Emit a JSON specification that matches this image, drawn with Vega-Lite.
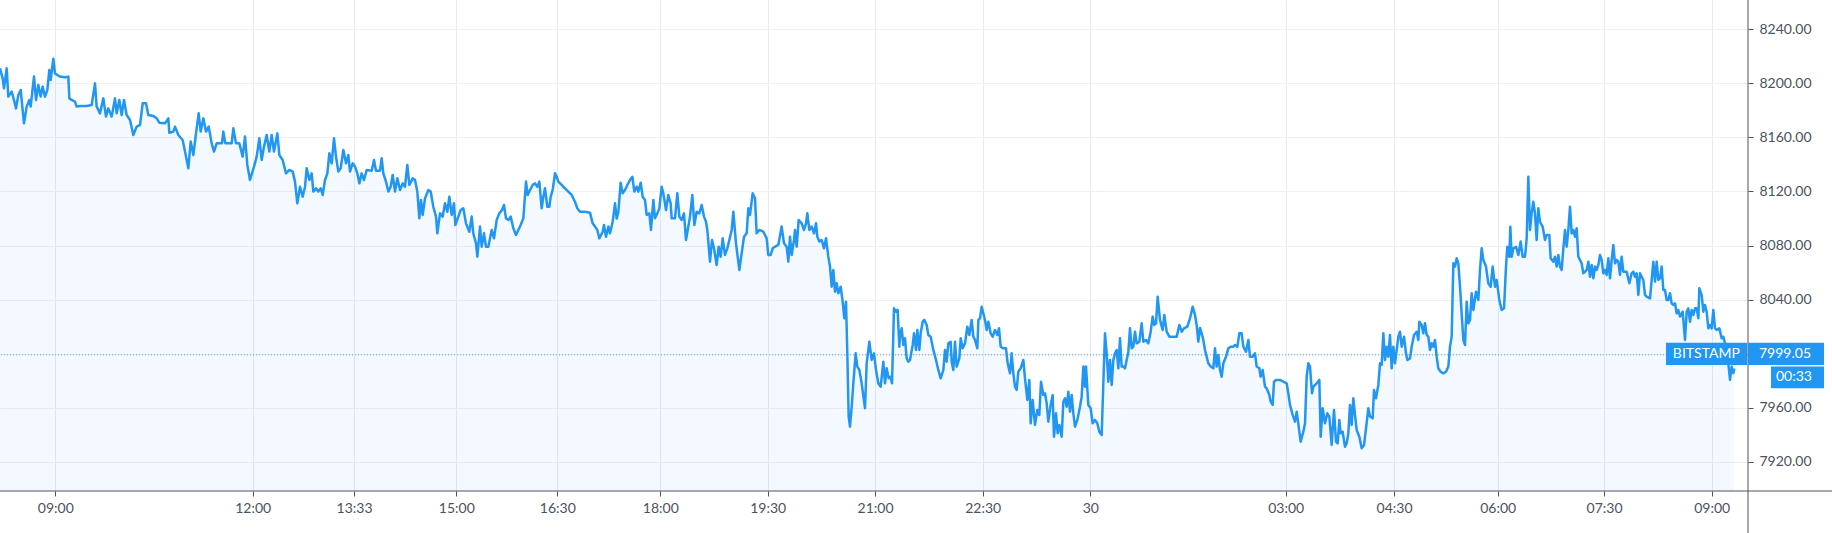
{
  "$schema": "https://vega.github.io/schema/vega-lite/v6.json",
  "width": 1748,
  "height": 491,
  "autosize": {"type": "none"},
  "padding": {"left": 0, "top": 0, "right": 84, "bottom": 42},
  "background": "#ffffff",
  "config": {
    "view": {"stroke": null},
    "axis": {"labelFont": "Lato", "labelFontSize": 14, "labelColor": "#4c525e", "tickColor": "#4c525e", "domain": false}
  },
  "encoding": {
    "x": {
      "field": "bar",
      "type": "quantitative",
      "title": null,
      "scale": {"domain": [0, 5244], "nice": false, "zero": false},
      "axis": {
        "orient": "bottom",
        "values": [166, 758, 1062, 1369, 1672, 1981, 2303, 2625, 2948, 3271, 3857, 4182, 4493, 4812, 5135],
        "labelExpr": "datum.value == 166 || datum.value == 5135 ? '09:00' : datum.value == 758 ? '12:00' : datum.value == 1062 ? '13:33' : datum.value == 1369 ? '15:00' : datum.value == 1672 ? '16:30' : datum.value == 1981 ? '18:00' : datum.value == 2303 ? '19:30' : datum.value == 2625 ? '21:00' : datum.value == 2948 ? '22:30' : datum.value == 3271 ? '30' : datum.value == 3857 ? '03:00' : datum.value == 4182 ? '04:30' : datum.value == 4493 ? '06:00' : datum.value == 4812 ? '07:30' : ''",
        "grid": true,
        "gridColor": "#e3ebf3",
        "tickSize": 5,
        "labelPadding": 5,
        "labelOverlap": false,
        "labelFlush": false
      }
    },
    "y": {
      "field": "price",
      "type": "quantitative",
      "title": null,
      "stack": null,
      "scale": {"domain": [7898.3, 8261.7], "nice": false, "zero": false},
      "axis": {
        "orient": "right",
        "values": [7920, 7960, 8000, 8040, 8080, 8120, 8160, 8200, 8240],
        "labelExpr": "datum.value == 8000 ? '' : format(datum.value, '.2f')",
        "grid": true,
        "gridColor": "#edf1f6",
        "tickSize": 5,
        "labelPadding": 6,
        "labelOverlap": false,
        "labelFlush": false
      }
    }
  },
  "datasets": {
    "prices": [
      {"bar":0,"price":8211.1},{"bar":8,"price":8203.7},{"bar":12,"price":8196.3},{"bar":20,"price":8211.1},{"bar":25,"price":8190.2},{"bar":35,"price":8193.9},{"bar":42,"price":8187.7},{"bar":48,"price":8181.5},{"bar":55,"price":8191.4},{"bar":62,"price":8195.1},{"bar":66,"price":8185.2},{"bar":72,"price":8170.4},{"bar":80,"price":8182.8},{"bar":88,"price":8187.7},{"bar":92,"price":8182.8},{"bar":98,"price":8196.3},{"bar":102,"price":8205.0},{"bar":108,"price":8187.7},{"bar":115,"price":8198.8},{"bar":122,"price":8190.2},{"bar":128,"price":8197.6},{"bar":135,"price":8190.2},{"bar":142,"price":8195.1},{"bar":148,"price":8209.9},{"bar":152,"price":8202.5},{"bar":160,"price":8218.3},{"bar":165,"price":8207.4},{"bar":172,"price":8206.2},{"bar":180,"price":8205.0},{"bar":195,"price":8204.5},{"bar":205,"price":8205.0},{"bar":208,"price":8188.9},{"bar":215,"price":8187.7},{"bar":225,"price":8186.5},{"bar":230,"price":8182.8},{"bar":240,"price":8183.3},{"bar":260,"price":8183.3},{"bar":275,"price":8184.0},{"bar":285,"price":8200.0},{"bar":290,"price":8182.8},{"bar":300,"price":8177.8},{"bar":310,"price":8188.9},{"bar":318,"price":8175.4},{"bar":325,"price":8181.5},{"bar":335,"price":8175.4},{"bar":345,"price":8188.9},{"bar":350,"price":8177.8},{"bar":358,"price":8187.7},{"bar":365,"price":8176.6},{"bar":372,"price":8187.7},{"bar":380,"price":8176.6},{"bar":390,"price":8172.9},{"bar":400,"price":8161.8},{"bar":410,"price":8168.0},{"bar":420,"price":8169.2},{"bar":428,"price":8185.2},{"bar":438,"price":8185.2},{"bar":445,"price":8176.6},{"bar":460,"price":8175.9},{"bar":470,"price":8174.1},{"bar":478,"price":8170.9},{"bar":495,"price":8170.4},{"bar":505,"price":8174.1},{"bar":508,"price":8163.5},{"bar":520,"price":8164.3},{"bar":525,"price":8168.0},{"bar":535,"price":8161.8},{"bar":548,"price":8158.1},{"bar":555,"price":8149.5},{"bar":565,"price":8137.1},{"bar":572,"price":8156.9},{"bar":580,"price":8147.0},{"bar":588,"price":8163.0},{"bar":596,"price":8177.8},{"bar":602,"price":8164.3},{"bar":610,"price":8174.1},{"bar":618,"price":8164.3},{"bar":626,"price":8168.0},{"bar":635,"price":8155.6},{"bar":642,"price":8149.5},{"bar":650,"price":8155.6},{"bar":666,"price":8155.6},{"bar":670,"price":8164.3},{"bar":676,"price":8155.6},{"bar":695,"price":8155.6},{"bar":700,"price":8166.7},{"bar":708,"price":8155.6},{"bar":718,"price":8155.6},{"bar":728,"price":8145.8},{"bar":735,"price":8160.6},{"bar":742,"price":8139.6},{"bar":750,"price":8128.5},{"bar":762,"price":8138.4},{"bar":770,"price":8145.8},{"bar":778,"price":8159.3},{"bar":785,"price":8143.3},{"bar":792,"price":8153.2},{"bar":800,"price":8161.8},{"bar":808,"price":8149.5},{"bar":815,"price":8161.8},{"bar":822,"price":8149.5},{"bar":832,"price":8163.0},{"bar":838,"price":8147.0},{"bar":848,"price":8143.3},{"bar":858,"price":8133.4},{"bar":868,"price":8135.9},{"bar":878,"price":8134.7},{"bar":885,"price":8127.3},{"bar":892,"price":8111.2},{"bar":900,"price":8123.5},
      {"bar":908,"price":8116.1},{"bar":915,"price":8123.5},{"bar":920,"price":8137.1},{"bar":928,"price":8128.5},{"bar":935,"price":8133.4},{"bar":940,"price":8119.9},{"bar":948,"price":8122.3},{"bar":955,"price":8119.9},{"bar":962,"price":8122.3},{"bar":968,"price":8117.4},{"bar":975,"price":8128.5},{"bar":982,"price":8133.4},{"bar":988,"price":8148.2},{"bar":995,"price":8140.8},{"bar":1002,"price":8159.3},{"bar":1008,"price":8145.8},{"bar":1015,"price":8134.7},{"bar":1022,"price":8137.1},{"bar":1030,"price":8150.7},{"bar":1038,"price":8140.8},{"bar":1045,"price":8147.0},{"bar":1050,"price":8134.7},{"bar":1058,"price":8140.8},{"bar":1065,"price":8138.4},{"bar":1072,"price":8133.4},{"bar":1078,"price":8126.0},{"bar":1085,"price":8133.4},{"bar":1092,"price":8128.5},{"bar":1100,"price":8135.9},{"bar":1115,"price":8135.4},{"bar":1122,"price":8143.3},{"bar":1128,"price":8135.4},{"bar":1140,"price":8135.4},{"bar":1145,"price":8144.5},{"bar":1150,"price":8133.4},{"bar":1158,"price":8127.3},{"bar":1165,"price":8119.9},{"bar":1172,"price":8123.5},{"bar":1178,"price":8132.2},{"bar":1185,"price":8119.9},{"bar":1192,"price":8129.7},{"bar":1200,"price":8121.1},{"bar":1208,"price":8126.0},{"bar":1215,"price":8123.5},{"bar":1222,"price":8139.6},{"bar":1228,"price":8124.8},{"bar":1238,"price":8129.7},{"bar":1245,"price":8128.5},{"bar":1252,"price":8119.9},{"bar":1258,"price":8100.1},{"bar":1263,"price":8113.7},{"bar":1268,"price":8102.6},{"bar":1275,"price":8114.9},{"bar":1285,"price":8121.1},{"bar":1292,"price":8119.9},{"bar":1300,"price":8108.7},{"bar":1308,"price":8101.4},{"bar":1312,"price":8089.0},{"bar":1320,"price":8103.8},{"bar":1328,"price":8101.4},{"bar":1335,"price":8111.2},{"bar":1342,"price":8105.0},{"bar":1348,"price":8116.1},{"bar":1355,"price":8102.6},{"bar":1362,"price":8111.2},{"bar":1366,"price":8095.2},{"bar":1375,"price":8101.4},{"bar":1382,"price":8106.3},{"bar":1390,"price":8107.5},{"bar":1398,"price":8096.4},{"bar":1408,"price":8090.2},{"bar":1415,"price":8101.4},{"bar":1420,"price":8089.0},{"bar":1428,"price":8081.6},{"bar":1432,"price":8071.7},{"bar":1440,"price":8094.0},{"bar":1445,"price":8079.1},{"bar":1452,"price":8089.0},{"bar":1458,"price":8079.1},{"bar":1465,"price":8079.1},{"bar":1475,"price":8091.5},{"bar":1482,"price":8085.3},{"bar":1490,"price":8098.9},{"bar":1498,"price":8103.8},{"bar":1506,"price":8106.3},{"bar":1512,"price":8110.0},{"bar":1518,"price":8100.1},{"bar":1525,"price":8098.9},{"bar":1532,"price":8101.4},{"bar":1540,"price":8092.7},{"bar":1548,"price":8087.8},{"bar":1555,"price":8091.5},{"bar":1562,"price":8095.2},{"bar":1570,"price":8100.1},{"bar":1578,"price":8127.3},{"bar":1583,"price":8117.4},{"bar":1590,"price":8121.1},{"bar":1598,"price":8124.8},{"bar":1605,"price":8126.0},{"bar":1612,"price":8123.5},{"bar":1618,"price":8127.3},{"bar":1625,"price":8107.5},{"bar":1630,"price":8116.1},{"bar":1635,"price":8122.3},{"bar":1642,"price":8108.7},{"bar":1648,"price":8108.7},{"bar":1652,"price":8116.1},{"bar":1658,"price":8121.1},{"bar":1665,"price":8133.4},{"bar":1670,"price":8130.9},{"bar":1675,"price":8127.3},{"bar":1685,"price":8124.8},{"bar":1695,"price":8122.3},{"bar":1705,"price":8119.9},{"bar":1715,"price":8117.4},{"bar":1725,"price":8112.4},{"bar":1732,"price":8107.5},{"bar":1740,"price":8105.0},{"bar":1755,"price":8105.0},{"bar":1770,"price":8104.3},{"bar":1778,"price":8096.4},{"bar":1785,"price":8094.0},{"bar":1792,"price":8091.5},{"bar":1798,"price":8085.3},
      {"bar":1808,"price":8090.2},{"bar":1812,"price":8095.2},{"bar":1818,"price":8086.5},{"bar":1825,"price":8094.0},{"bar":1830,"price":8089.0},{"bar":1838,"price":8097.6},{"bar":1845,"price":8111.2},{"bar":1850,"price":8099.9},{"bar":1855,"price":8104.8},{"bar":1862,"price":8126.5},{"bar":1868,"price":8118.6},{"bar":1875,"price":8121.1},{"bar":1882,"price":8124.8},{"bar":1890,"price":8128.5},{"bar":1897,"price":8130.9},{"bar":1903,"price":8119.9},{"bar":1910,"price":8123.5},{"bar":1915,"price":8119.9},{"bar":1922,"price":8126.5},{"bar":1928,"price":8116.1},{"bar":1935,"price":8113.7},{"bar":1940,"price":8102.6},{"bar":1948,"price":8103.8},{"bar":1953,"price":8091.5},{"bar":1960,"price":8113.7},{"bar":1965,"price":8100.1},{"bar":1972,"price":8103.8},{"bar":1978,"price":8107.5},{"bar":1985,"price":8123.5},{"bar":1990,"price":8118.6},{"bar":1998,"price":8106.3},{"bar":2005,"price":8117.4},{"bar":2012,"price":8111.2},{"bar":2015,"price":8100.1},{"bar":2025,"price":8100.1},{"bar":2032,"price":8118.6},{"bar":2038,"price":8101.4},{"bar":2045,"price":8098.9},{"bar":2052,"price":8103.8},{"bar":2058,"price":8084.1},{"bar":2065,"price":8094.0},{"bar":2070,"price":8101.4},{"bar":2077,"price":8117.4},{"bar":2083,"price":8095.2},{"bar":2090,"price":8105.0},{"bar":2098,"price":8103.8},{"bar":2105,"price":8110.0},{"bar":2112,"price":8101.4},{"bar":2118,"price":8097.6},{"bar":2122,"price":8091.5},{"bar":2130,"price":8068.0},{"bar":2136,"price":8084.1},{"bar":2142,"price":8077.9},{"bar":2150,"price":8065.6},{"bar":2156,"price":8079.1},{"bar":2162,"price":8071.7},{"bar":2168,"price":8085.3},{"bar":2175,"price":8073.0},{"bar":2182,"price":8077.9},{"bar":2188,"price":8084.1},{"bar":2195,"price":8091.5},{"bar":2200,"price":8105.0},{"bar":2208,"price":8081.6},{"bar":2218,"price":8061.9},{"bar":2225,"price":8074.2},{"bar":2232,"price":8086.5},{"bar":2240,"price":8089.0},{"bar":2245,"price":8107.5},{"bar":2250,"price":8102.6},{"bar":2258,"price":8118.6},{"bar":2265,"price":8114.9},{"bar":2270,"price":8089.0},{"bar":2278,"price":8091.5},{"bar":2290,"price":8090.2},{"bar":2300,"price":8085.3},{"bar":2305,"price":8073.0},{"bar":2312,"price":8073.0},{"bar":2318,"price":8077.9},{"bar":2325,"price":8079.1},{"bar":2335,"price":8080.4},{"bar":2345,"price":8094.0},{"bar":2352,"price":8081.6},{"bar":2360,"price":8079.1},{"bar":2365,"price":8068.0},{"bar":2370,"price":8086.5},{"bar":2375,"price":8073.0},{"bar":2382,"price":8084.1},{"bar":2385,"price":8091.5},{"bar":2390,"price":8079.1},{"bar":2396,"price":8098.9},{"bar":2405,"price":8096.4},{"bar":2412,"price":8091.5},{"bar":2418,"price":8096.4},{"bar":2422,"price":8103.8},{"bar":2428,"price":8091.5},{"bar":2435,"price":8094.0},{"bar":2442,"price":8089.0},{"bar":2448,"price":8096.4},{"bar":2452,"price":8086.5},{"bar":2458,"price":8082.9},{"bar":2465,"price":8084.1},{"bar":2472,"price":8077.9},{"bar":2478,"price":8085.3},{"bar":2485,"price":8071.7},{"bar":2490,"price":8064.4},{"bar":2495,"price":8049.5},{"bar":2500,"price":8061.9},{"bar":2505,"price":8045.8},{"bar":2510,"price":8052.0},{"bar":2515,"price":8044.6},{"bar":2522,"price":8049.5},{"bar":2528,"price":8038.4},{"bar":2533,"price":8026.1},{"bar":2538,"price":8038.4},{"bar":2542,"price":8000.2},{"bar":2546,"price":7953.3},{"bar":2550,"price":7945.9},{"bar":2555,"price":7960.7},{"bar":2560,"price":7978.0},{"bar":2567,"price":8000.2},{"bar":2572,"price":7990.4},{"bar":2578,"price":7987.9},{"bar":2585,"price":7978.0},{"bar":2595,"price":7959.5},{"bar":2600,"price":7992.8},{"bar":2608,"price":8008.8},{"bar":2615,"price":7995.3},{"bar":2622,"price":8000.2},{"bar":2628,"price":7987.9},{"bar":2635,"price":7978.0},{"bar":2642,"price":7975.5},{"bar":2650,"price":7994.0},{"bar":2655,"price":7978.0},{"bar":2660,"price":7989.1},{"bar":2666,"price":7981.7},{"bar":2672,"price":7982.9},{"bar":2676,"price":7978.0},{"bar":2682,"price":8033.5},{"bar":2688,"price":8031.0},{"bar":2693,"price":8032.3},{"bar":2698,"price":8005.1},
      {"bar":2700,"price":8012.5},{"bar":2705,"price":8018.7},{"bar":2710,"price":8006.4},{"bar":2715,"price":8011.3},{"bar":2720,"price":7996.5},{"bar":2725,"price":7994.0},{"bar":2730,"price":7995.3},{"bar":2738,"price":8006.4},{"bar":2742,"price":8015.0},{"bar":2748,"price":8002.7},{"bar":2752,"price":8017.5},{"bar":2758,"price":8002.7},{"bar":2762,"price":8015.0},{"bar":2768,"price":8023.6},{"bar":2773,"price":8024.9},{"bar":2780,"price":8021.2},{"bar":2785,"price":8013.8},{"bar":2792,"price":8012.5},{"bar":2800,"price":8002.7},{"bar":2808,"price":7995.3},{"bar":2815,"price":7987.9},{"bar":2822,"price":7981.7},{"bar":2830,"price":7987.9},{"bar":2835,"price":8002.7},{"bar":2840,"price":7994.0},{"bar":2845,"price":8007.6},{"bar":2852,"price":8008.8},{"bar":2855,"price":7994.0},{"bar":2860,"price":7987.9},{"bar":2865,"price":8008.8},{"bar":2870,"price":7990.4},{"bar":2878,"price":7996.5},{"bar":2882,"price":8011.3},{"bar":2888,"price":8003.9},{"bar":2895,"price":8007.6},{"bar":2902,"price":8019.9},{"bar":2908,"price":8013.8},{"bar":2915,"price":8024.9},{"bar":2920,"price":8012.5},{"bar":2925,"price":8010.1},{"bar":2932,"price":8003.9},{"bar":2935,"price":8024.9},{"bar":2940,"price":8026.1},{"bar":2945,"price":8034.7},{"bar":2950,"price":8029.8},{"bar":2955,"price":8024.9},{"bar":2960,"price":8017.5},{"bar":2965,"price":8023.6},{"bar":2972,"price":8015.0},{"bar":2978,"price":8012.5},{"bar":2985,"price":8017.5},{"bar":2992,"price":8013.8},{"bar":2997,"price":8018.7},{"bar":3002,"price":8005.1},{"bar":3010,"price":8003.9},{"bar":3018,"price":8003.9},{"bar":3023,"price":7992.8},{"bar":3030,"price":7985.4},{"bar":3035,"price":8000.2},{"bar":3040,"price":7985.4},{"bar":3045,"price":7975.5},{"bar":3050,"price":7973.1},{"bar":3055,"price":7986.6},{"bar":3062,"price":7989.1},{"bar":3070,"price":7995.3},{"bar":3075,"price":7981.7},{"bar":3082,"price":7965.7},{"bar":3088,"price":7980.5},{"bar":3092,"price":7948.4},{"bar":3098,"price":7965.7},{"bar":3105,"price":7947.2},{"bar":3112,"price":7958.3},{"bar":3118,"price":7954.6},{"bar":3123,"price":7979.2},{"bar":3130,"price":7969.4},{"bar":3135,"price":7970.6},{"bar":3140,"price":7963.2},{"bar":3145,"price":7949.6},{"bar":3152,"price":7962.0},{"bar":3158,"price":7969.4},{"bar":3162,"price":7938.5},{"bar":3168,"price":7955.8},{"bar":3173,"price":7941.0},{"bar":3178,"price":7947.2},{"bar":3185,"price":7938.5},{"bar":3190,"price":7964.4},{"bar":3195,"price":7966.9},{"bar":3200,"price":7960.7},{"bar":3205,"price":7971.8},{"bar":3210,"price":7957.0},{"bar":3215,"price":7969.4},{"bar":3220,"price":7955.8},{"bar":3225,"price":7945.9},{"bar":3232,"price":7950.9},{"bar":3240,"price":7960.7},{"bar":3245,"price":7968.1},{"bar":3250,"price":7990.4},{"bar":3255,"price":7975.5},{"bar":3258,"price":7990.4},{"bar":3265,"price":7962.0},{"bar":3272,"price":7959.5},{"bar":3278,"price":7948.4},{"bar":3285,"price":7950.9},{"bar":3292,"price":7948.4},{"bar":3298,"price":7942.2},{"bar":3305,"price":7939.8},{"bar":3310,"price":7978.0},{"bar":3315,"price":8015.0},{"bar":3320,"price":8000.2},{"bar":3325,"price":7979.2},{"bar":3330,"price":7995.3},{"bar":3335,"price":7976.8},{"bar":3340,"price":7995.3},{"bar":3345,"price":8000.2},{"bar":3350,"price":8002.7},{"bar":3355,"price":7989.1},{"bar":3360,"price":8011.3},{"bar":3365,"price":7990.4},{"bar":3370,"price":7990.4},{"bar":3375,"price":7989.1},{"bar":3380,"price":7995.3},{"bar":3385,"price":8001.4},{"bar":3390,"price":8018.7},{"bar":3395,"price":8003.9},{"bar":3400,"price":8005.1},{"bar":3405,"price":8016.2},{"bar":3410,"price":8007.6},{"bar":3418,"price":8008.8},{"bar":3425,"price":8022.4},{"bar":3430,"price":8008.8},{"bar":3438,"price":8010.1},{"bar":3445,"price":8007.6},{"bar":3452,"price":8016.2},{"bar":3458,"price":8027.4},{"bar":3463,"price":8021.2},{"bar":3468,"price":8022.4},{"bar":3473,"price":8042.1},{"bar":3480,"price":8024.9},{"bar":3488,"price":8017.5},{"bar":3493,"price":8028.6},{"bar":3500,"price":8016.2},{"bar":3508,"price":8012.5},{"bar":3520,"price":8012.5},{"bar":3530,"price":8012.5},{"bar":3538,"price":8021.2},{"bar":3545,"price":8016.2},{"bar":3552,"price":8018.7},{"bar":3562,"price":8020.0},{"bar":3570,"price":8026.1},{"bar":3578,"price":8034.7},{"bar":3585,"price":8028.6},{"bar":3590,"price":8021.2},{"bar":3595,"price":8008.8},
      {"bar":3600,"price":8019.0},{"bar":3605,"price":8015.0},{"bar":3610,"price":8010.1},{"bar":3615,"price":8002.7},{"bar":3620,"price":7997.7},{"bar":3625,"price":7992.8},{"bar":3632,"price":7990.4},{"bar":3640,"price":7989.1},{"bar":3645,"price":8003.9},{"bar":3650,"price":7990.4},{"bar":3655,"price":7999.0},{"bar":3660,"price":7987.9},{"bar":3665,"price":7982.9},{"bar":3670,"price":7992.8},{"bar":3678,"price":7997.7},{"bar":3685,"price":8003.9},{"bar":3692,"price":8005.1},{"bar":3700,"price":8005.1},{"bar":3705,"price":8006.4},{"bar":3712,"price":8005.1},{"bar":3718,"price":8015.0},{"bar":3725,"price":8015.0},{"bar":3730,"price":8005.1},{"bar":3738,"price":8001.4},{"bar":3745,"price":8010.1},{"bar":3750,"price":7997.7},{"bar":3758,"price":7997.7},{"bar":3765,"price":8000.2},{"bar":3770,"price":7990.4},{"bar":3778,"price":7989.1},{"bar":3782,"price":7982.9},{"bar":3788,"price":7987.9},{"bar":3795,"price":7975.5},{"bar":3800,"price":7974.3},{"bar":3808,"price":7969.4},{"bar":3812,"price":7964.4},{"bar":3818,"price":7962.0},{"bar":3822,"price":7979.2},{"bar":3828,"price":7980.5},{"bar":3840,"price":7980.5},{"bar":3850,"price":7979.2},{"bar":3860,"price":7978.0},{"bar":3865,"price":7970.6},{"bar":3870,"price":7962.0},{"bar":3878,"price":7954.6},{"bar":3885,"price":7949.6},{"bar":3890,"price":7957.0},{"bar":3895,"price":7948.4},{"bar":3898,"price":7942.2},{"bar":3902,"price":7934.8},{"bar":3910,"price":7942.2},{"bar":3915,"price":7948.4},{"bar":3920,"price":7982.9},{"bar":3925,"price":7992.8},{"bar":3930,"price":7990.4},{"bar":3936,"price":7970.6},{"bar":3940,"price":7975.5},{"bar":3950,"price":7978.0},{"bar":3958,"price":7980.5},{"bar":3962,"price":7938.5},{"bar":3968,"price":7959.5},{"bar":3975,"price":7948.4},{"bar":3982,"price":7955.8},{"bar":3988,"price":7953.4},{"bar":3995,"price":7932.4},{"bar":4002,"price":7958.3},{"bar":4008,"price":7934.8},{"bar":4013,"price":7933.6},{"bar":4018,"price":7950.9},{"bar":4022,"price":7941.0},{"bar":4028,"price":7942.2},{"bar":4035,"price":7931.1},{"bar":4040,"price":7933.6},{"bar":4045,"price":7941.0},{"bar":4050,"price":7962.0},{"bar":4055,"price":7947.2},{"bar":4060,"price":7966.9},{"bar":4065,"price":7954.6},{"bar":4070,"price":7943.5},{"bar":4078,"price":7938.5},{"bar":4085,"price":7929.9},{"bar":4092,"price":7932.4},{"bar":4098,"price":7944.7},{"bar":4105,"price":7959.5},{"bar":4110,"price":7953.4},{"bar":4118,"price":7952.1},{"bar":4122,"price":7973.1},{"bar":4128,"price":7966.9},{"bar":4135,"price":7976.8},{"bar":4140,"price":7992.8},{"bar":4145,"price":7991.6},{"bar":4150,"price":8015.0},{"bar":4155,"price":7995.3},{"bar":4160,"price":8005.1},{"bar":4165,"price":7997.7},{"bar":4170,"price":8013.8},{"bar":4175,"price":7989.1},{"bar":4180,"price":8005.1},{"bar":4185,"price":7992.8},{"bar":4190,"price":8002.7},{"bar":4195,"price":8012.5},{"bar":4200,"price":8016.2},{"bar":4205,"price":8005.1},{"bar":4212,"price":8012.5},{"bar":4218,"price":8000.2},{"bar":4222,"price":7995.3},{"bar":4230,"price":7996.5},{"bar":4235,"price":8005.1},{"bar":4242,"price":8013.8},{"bar":4250,"price":8016.2},{"bar":4255,"price":8010.1},{"bar":4258,"price":8023.6},{"bar":4265,"price":8021.2},{"bar":4270,"price":8015.0},{"bar":4275,"price":8022.4},{"bar":4280,"price":8013.8},{"bar":4285,"price":8012.5},{"bar":4290,"price":8002.7},{"bar":4295,"price":8007.6},{"bar":4300,"price":8005.1},{"bar":4305,"price":8010.1},{"bar":4310,"price":7997.7},{"bar":4315,"price":7989.1},{"bar":4322,"price":7986.6},{"bar":4330,"price":7985.4},{"bar":4338,"price":7986.6},{"bar":4345,"price":7990.4},{"bar":4350,"price":8005.1},{"bar":4355,"price":8012.5},{"bar":4360,"price":8066.8},{"bar":4365,"price":8064.4},{"bar":4370,"price":8070.5},{"bar":4375,"price":8066.8},{"bar":4380,"price":8049.5},{"bar":4385,"price":8029.8},{"bar":4390,"price":8010.1},{"bar":4395,"price":8006.4},{"bar":4400,"price":8038.4},{"bar":4405,"price":8022.4},{"bar":4410,"price":8024.9},{"bar":4415,"price":8044.6},{"bar":4420,"price":8032.3},{"bar":4428,"price":8045.8},{"bar":4435,"price":8039.7},{"bar":4440,"price":8061.9},{"bar":4445,"price":8077.9},{"bar":4450,"price":8069.3},{"bar":4458,"price":8064.4},{"bar":4465,"price":8052.0},{"bar":4472,"price":8049.5},{"bar":4478,"price":8064.4},{"bar":4485,"price":8049.5},{"bar":4490,"price":8054.5},{"bar":4498,"price":8039.7},
      {"bar":4505,"price":8032.3},{"bar":4512,"price":8033.5},{"bar":4518,"price":8064.4},{"bar":4522,"price":8079.1},{"bar":4528,"price":8071.7},{"bar":4531,"price":8093.9},{"bar":4535,"price":8071.7},{"bar":4540,"price":8077.9},{"bar":4548,"price":8079.1},{"bar":4555,"price":8073.0},{"bar":4562,"price":8082.9},{"bar":4568,"price":8071.7},{"bar":4575,"price":8071.7},{"bar":4580,"price":8085.3},{"bar":4585,"price":8130.9},{"bar":4590,"price":8091.5},{"bar":4595,"price":8103.8},{"bar":4600,"price":8112.4},{"bar":4605,"price":8103.8},{"bar":4610,"price":8084.1},{"bar":4615,"price":8107.5},{"bar":4620,"price":8097.6},{"bar":4628,"price":8093.9},{"bar":4635,"price":8084.1},{"bar":4640,"price":8087.8},{"bar":4648,"price":8087.8},{"bar":4652,"price":8070.5},{"bar":4660,"price":8068.0},{"bar":4665,"price":8071.7},{"bar":4670,"price":8064.4},{"bar":4675,"price":8073.0},{"bar":4680,"price":8064.4},{"bar":4685,"price":8061.9},{"bar":4690,"price":8077.9},{"bar":4695,"price":8091.5},{"bar":4700,"price":8079.1},{"bar":4705,"price":8091.5},{"bar":4710,"price":8108.7},{"bar":4715,"price":8089.0},{"bar":4720,"price":8091.5},{"bar":4725,"price":8086.5},{"bar":4730,"price":8092.7},{"bar":4735,"price":8071.7},{"bar":4740,"price":8069.3},{"bar":4745,"price":8066.8},{"bar":4750,"price":8059.4},{"bar":4755,"price":8060.6},{"bar":4760,"price":8061.9},{"bar":4765,"price":8068.0},{"bar":4770,"price":8056.9},{"bar":4775,"price":8065.6},{"bar":4780,"price":8055.7},{"bar":4785,"price":8064.4},{"bar":4790,"price":8061.9},{"bar":4795,"price":8065.6},{"bar":4800,"price":8073.0},{"bar":4805,"price":8069.3},{"bar":4810,"price":8059.4},{"bar":4815,"price":8061.9},{"bar":4820,"price":8058.2},{"bar":4825,"price":8070.5},{"bar":4830,"price":8055.7},{"bar":4835,"price":8069.3},{"bar":4840,"price":8080.4},{"bar":4845,"price":8066.8},{"bar":4850,"price":8069.3},{"bar":4855,"price":8068.0},{"bar":4860,"price":8058.2},{"bar":4865,"price":8071.7},{"bar":4870,"price":8060.6},{"bar":4880,"price":8060.6},{"bar":4888,"price":8052.0},{"bar":4895,"price":8059.4},{"bar":4900,"price":8060.6},{"bar":4905,"price":8056.9},{"bar":4910,"price":8059.4},{"bar":4915,"price":8043.4},{"bar":4920,"price":8059.4},{"bar":4925,"price":8056.9},{"bar":4930,"price":8054.5},{"bar":4935,"price":8043.4},{"bar":4940,"price":8042.1},{"bar":4950,"price":8040.9},{"bar":4955,"price":8054.5},{"bar":4960,"price":8068.0},{"bar":4965,"price":8053.2},{"bar":4970,"price":8068.0},{"bar":4975,"price":8054.5},{"bar":4980,"price":8055.7},{"bar":4985,"price":8064.4},{"bar":4990,"price":8047.1},{"bar":4995,"price":8047.1},{"bar":5000,"price":8039.7},{"bar":5005,"price":8039.7},{"bar":5010,"price":8044.6},{"bar":5015,"price":8037.2},{"bar":5020,"price":8036.0},{"bar":5025,"price":8037.2},{"bar":5030,"price":8029.8},{"bar":5035,"price":8032.3},{"bar":5040,"price":8027.4},{"bar":5048,"price":8031.0},{"bar":5055,"price":8010.1},{"bar":5060,"price":8031.0},{"bar":5065,"price":8033.5},{"bar":5070,"price":8023.6},{"bar":5075,"price":8032.3},{"bar":5080,"price":8028.6},{"bar":5085,"price":8033.5},{"bar":5090,"price":8033.5},{"bar":5095,"price":8026.1},{"bar":5098,"price":8048.3},{"bar":5105,"price":8043.4},{"bar":5110,"price":8031.0},{"bar":5115,"price":8036.0},{"bar":5120,"price":8031.0},{"bar":5125,"price":8018.7},{"bar":5130,"price":8021.2},{"bar":5135,"price":8018.7},{"bar":5140,"price":8032.3},{"bar":5145,"price":8018.7},{"bar":5150,"price":8017.5},{"bar":5158,"price":8018.7},{"bar":5165,"price":8011.3},{"bar":5170,"price":8012.5},{"bar":5175,"price":8007.6},{"bar":5180,"price":8005.1},{"bar":5185,"price":7992.8},{"bar":5190,"price":7980.5},{"bar":5195,"price":7990.4},{"bar":5200,"price":7985.4},{"bar":5203,"price":7988.9}
    ]
  },
  "layer": [
    {
      "data": {"name": "prices"},
      "mark": {"type": "area", "color": "#2196f3", "fillOpacity": 0.055, "strokeWidth": 0}
    },
    {
      "data": {"name": "prices"},
      "mark": {"type": "line", "color": "#2196f3", "strokeWidth": 2.5, "strokeJoin": "round"}
    },
    {
      "data": {"values": [{"price": 7999.05}]},
      "mark": {"type": "rule", "color": "#2196f3", "strokeWidth": 1, "strokeDash": [1, 2], "opacity": 0.8},
      "encoding": {"x": null}
    },
    {
      "data": {"values": [{"bar": 5244, "price": 8261.7, "bottom": 7867.2}]},
      "mark": {"type": "rule", "color": "#4c525e", "strokeWidth": 1},
      "encoding": {"y2": {"field": "bottom"}}
    },
    {
      "data": {"values": [{"price": 7898.3, "bar": 0, "end": 5496}]},
      "mark": {"type": "rule", "color": "#4c525e", "strokeWidth": 1},
      "encoding": {"x2": {"field": "end"}}
    },
    {
      "data": {"values": [
        {"bar": 4998, "end": 5241, "price": 8008.1, "low": 7991.6},
        {"bar": 5244, "end": 5472, "price": 8008.1, "low": 7991.6},
        {"bar": 5313, "end": 5472, "price": 7990.4, "low": 7974.3}
      ]},
      "mark": {"type": "rect", "color": "#2196f3"},
      "encoding": {"x2": {"field": "end"}, "y2": {"field": "low"}}
    },
    {
      "data": {"values": [{"label": "BITSTAMP", "bar": 5119, "price": 8000.0}]},
      "mark": {"type": "text", "color": "#ffffff", "font": "Lato", "fontSize": 14, "align": "center", "baseline": "middle"},
      "encoding": {"text": {"field": "label"}}
    },
    {
      "data": {"values": [{"label": "7999.05", "bar": 5277, "price": 8000.0}, {"label": "00:33", "bar": 5328, "price": 7982.4}]},
      "mark": {"type": "text", "color": "#ffffff", "font": "Lato", "fontSize": 14, "align": "left", "baseline": "middle"},
      "encoding": {"text": {"field": "label"}}
    }
  ]
}
